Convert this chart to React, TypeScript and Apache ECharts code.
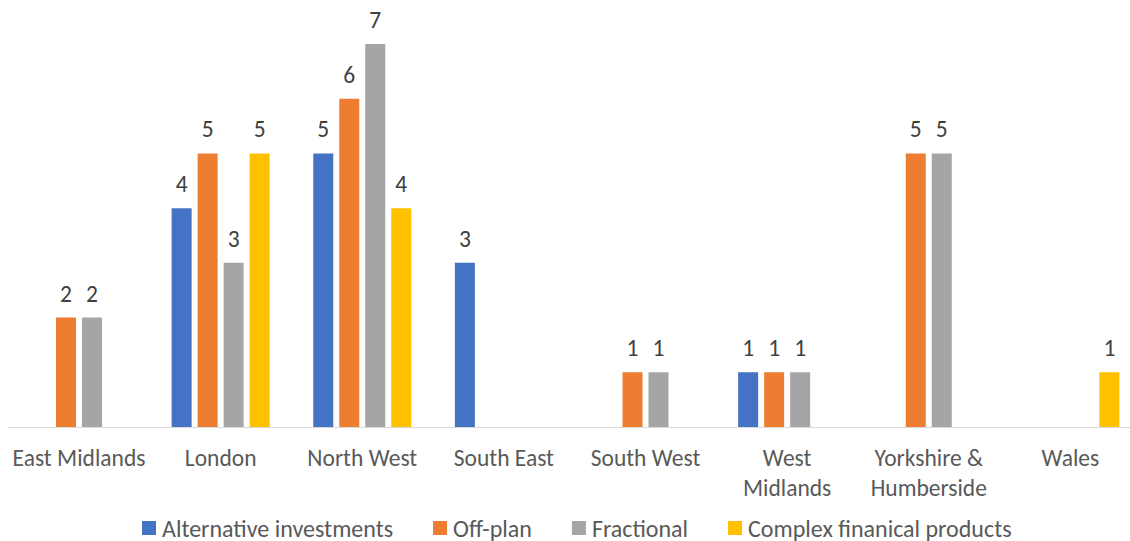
import React, { useEffect, useRef } from "react";
import * as echarts from "echarts";

const categories = [
  "East Midlands",
  "London",
  "North West",
  "South East",
  "South West",
  "West\nMidlands",
  "Yorkshire &\nHumberside",
  "Wales",
];
const seriesNames = [
  "Alternative investments",
  "Off-plan",
  "Fractional",
  "Complex finanical products",
];
const alternativeInvestments = [0, 4, 5, 3, 0, 1, 0, 0];
const offPlan = [2, 5, 6, 0, 1, 1, 5, 0];
const fractional = [2, 3, 7, 0, 1, 1, 5, 0];
const complexProducts = [0, 5, 4, 0, 0, 0, 0, 1];
const colors = ["#4472C4", "#ED7D31", "#A5A5A5", "#FFC000"];

const FONT = "Carlito, Lato, sans-serif";

export default function App() {
  const ref = useRef<HTMLDivElement>(null);
  useEffect(() => {
    if (!ref.current) return;
    const chart = echarts.init(ref.current, undefined, { renderer: "svg" });
    const values = [alternativeInvestments, offPlan, fractional, complexProducts];
    chart.setOption({
      animation: false,
      color: colors,
      textStyle: { fontFamily: FONT },
      grid: { left: 8.2, top: 44, width: 1133, height: 383, containLabel: false },
      legend: {
        left: 137,
        top: 511,
        itemWidth: 14,
        itemHeight: 14,
        itemGap: 40,
        icon: "rect",
        textStyle: { fontFamily: FONT, fontSize: 24, color: "#595959", padding: [0, 0, 0, 1] },
        data: seriesNames,
      },
      xAxis: {
        type: "category",
        data: categories,
        axisLine: { lineStyle: { color: "#D9D9D9", width: 1 } },
        axisTick: { show: false },
        axisLabel: {
          fontFamily: FONT,
          fontSize: 23.5,
          color: "#595959",
          lineHeight: 30,
          margin: 16,
          interval: 0,
        },
      },
      yAxis: {
        type: "value",
        min: 0,
        max: 7,
        show: false,
        splitLine: { show: false },
      },
      series: seriesNames.map((name, i) => ({
        name,
        type: "bar",
        data: values[i],
        barWidth: 20,
        barGap: "30%",
        label: {
          show: true,
          position: "top",
          distance: 12,
          fontFamily: FONT,
          fontSize: 23.5,
          color: "#404040",
          formatter: (p: any) => (p.value === 0 ? "" : String(p.value)),
        },
      })),
    });
    return () => chart.dispose();
  }, []);
  return (
    <div
      style={{
        position: "absolute",
        left: 0,
        top: 0,
        width: 1130,
        height: 541,
        overflow: "hidden",
      }}
    >
      <div ref={ref} style={{ width: 1150, height: 541 }} />
    </div>
  );
}
